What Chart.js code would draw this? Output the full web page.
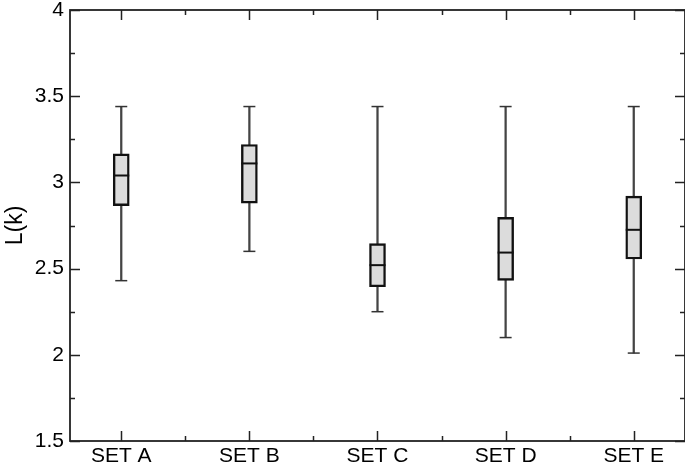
<!DOCTYPE html>
<html>
<head>
<meta charset="utf-8">
<script src="https://cdn.jsdelivr.net/npm/chart.js@4/dist/chart.umd.min.js"></script>
<style>
    html, body { margin: 0; padding: 0; background: #fff; overflow: hidden; }
    #wrap { width: 685px; height: 470px; position: relative; }
    canvas { display: block; }
</style>
</head>
<body>
<div id="wrap"><canvas id="boxChart"></canvas></div>
<script>
const categories = ['SET A', 'SET B', 'SET C', 'SET D', 'SET E'];
const whiskerLow = [2.43, 2.60, 2.25, 2.10, 2.01];
const boxLow = [2.865, 2.88, 2.395, 2.432, 2.556];
const medians = [3.04, 3.11, 2.52, 2.593, 2.725];
const boxHigh = [3.165, 3.22, 2.645, 2.797, 2.92];
const whiskerHigh = [3.44, 3.44, 3.44, 3.44, 3.44];
const yTicks = [1.5, 2, 2.5, 3, 3.5, 4];

const positions = categories.map((c, i) => i + 1);

// inward tick marks + frame, placed with the chart's own scales
const frameTicks = {
    id: 'frameTicks',
    afterDraw(chart) {
        const { ctx, chartArea: a, scales } = chart;
        const x = scales.x, y = scales.y;
        ctx.save();
        ctx.strokeStyle = '#222';
        ctx.lineWidth = 1.5;
        ctx.beginPath();
        for (let v = 1.5; v <= 4.0001; v += 0.25) {
            const py = Math.round(y.getPixelForValue(v)) + 0.5;
            const len = Math.abs(v * 2 - Math.round(v * 2)) < 0.01 ? 10 : 5;
            ctx.moveTo(a.left, py); ctx.lineTo(a.left + len, py);
            ctx.moveTo(a.right, py); ctx.lineTo(a.right - len, py);
        }
        for (let v = 1; v <= 5.5; v += 0.5) {
            const px = Math.round(x.getPixelForValue(v)) + 0.5;
            const len = Number.isInteger(v) ? 10 : 5;
            ctx.moveTo(px, a.bottom); ctx.lineTo(px, a.bottom - len);
            ctx.moveTo(px, a.top); ctx.lineTo(px, a.top + len);
        }
        ctx.stroke();
        ctx.lineWidth = 1.8;
        ctx.strokeRect(a.left, a.top, a.right - a.left, a.bottom - a.top);
        ctx.restore();
    }
};

new Chart(document.getElementById('boxChart'), {
    type: 'bar',
    data: {
        datasets: [
            {
                type: 'scatter',
                label: 'median',
                data: positions.map((p, i) => ({ x: p, y: medians[i] })),
                pointStyle: 'line',
                radius: 8,
                borderColor: '#111',
                borderWidth: 2,
                order: 0
            },
            {
                type: 'scatter',
                label: 'caps',
                data: positions.map((p, i) => ({ x: p, y: whiskerHigh[i] }))
                    .concat(positions.map((p, i) => ({ x: p, y: whiskerLow[i] }))),
                pointStyle: 'line',
                radius: 6,
                borderColor: '#333',
                borderWidth: 1.5,
                order: 1
            },
            {
                label: 'box',
                data: positions.map((p, i) => ({ x: p, y: [boxLow[i], boxHigh[i]] })),
                backgroundColor: '#dcdcdc',
                borderColor: '#111',
                borderWidth: 2.4,
                borderSkipped: false,
                barThickness: 16,
                grouped: false,
                order: 2
            },
            {
                label: 'whisker',
                data: positions.map((p, i) => ({ x: p, y: [whiskerLow[i], whiskerHigh[i]] })),
                backgroundColor: '#444',
                borderWidth: 0,
                barThickness: 1.6,
                grouped: false,
                order: 3
            }
        ]
    },
    options: {
        responsive: true,
        maintainAspectRatio: false,
        animation: false,
        layout: { autoPadding: false, padding: { top: 10, right: 0, left: 0, bottom: 0 } },
        plugins: { legend: { display: false }, tooltip: { enabled: false } },
        scales: {
            x: {
                type: 'linear',
                min: 0.6,
                max: 5.4,
                offset: false,
                grid: { display: false, drawTicks: false },
                border: { display: false },
                afterBuildTicks: scale => { scale.ticks = positions.map(v => ({ value: v })); },
                afterFit: scale => {
                    scale.height = 29;
                    scale.paddingLeft = 0;
                    scale.paddingRight = 0;
                },
                ticks: {
                    color: '#000',
                    padding: 3,
                    maxRotation: 0,
                    font: { family: 'Liberation Sans', size: 21 },
                    callback: v => categories[v - 1]
                }
            },
            y: {
                min: 1.5,
                max: 4,
                grid: { display: false, drawTicks: false },
                border: { display: false },
                afterBuildTicks: scale => { scale.ticks = yTicks.map(v => ({ value: v })); },
                afterFit: scale => {
                    scale.width = 70;
                    scale.paddingTop = 0;
                    scale.paddingBottom = 0;
                },
                ticks: {
                    color: '#000',
                    padding: 6,
                    font: { family: 'Liberation Sans', size: 21 },
                    callback: v => String(v)
                },
                title: {
                    display: true,
                    text: 'L(k)',
                    color: '#000',
                    padding: { top: 2, bottom: 0 },
                    font: { family: 'Liberation Sans', size: 23 }
                }
            }
        }
    },
    plugins: [frameTicks]
});
</script>
</body>
</html>
